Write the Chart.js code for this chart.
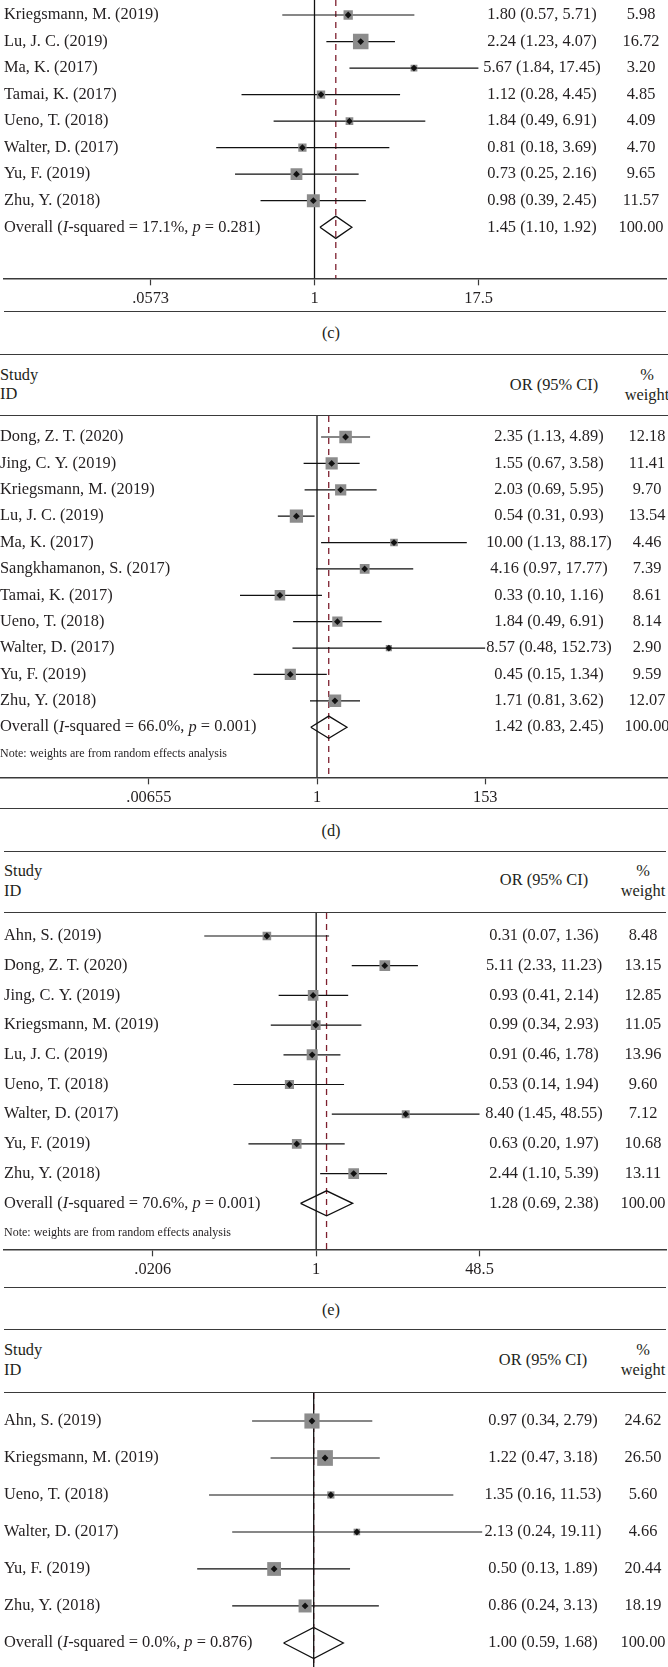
<!DOCTYPE html>
<html>
<head>
<meta charset="utf-8">
<title>Forest plots (c)–(f)</title>
<script src="https://cdn.jsdelivr.net/npm/chart.js@4.4.1/dist/chart.umd.min.js"></script>
<style>
  html, body { margin: 0; padding: 0; background: #fff; }
  body { position: relative; width: 668px; height: 1667px; overflow: hidden;
         font-family: "Liberation Serif", "Times New Roman", serif; color: #231f20; }
  .panel { position: absolute; left: 0; }
  .rule { position: absolute; height: 0; border-top: 1.5px solid #3a3a3a; }
  .lbl { position: absolute; height: 20px; line-height: 20px; font-size: 16.4px; white-space: nowrap; }
</style>
</head>
<body>
<script>
// ===== Data =====

// (c) — top of this panel is cut off, only these rows are visible
const studiesC = ['Kriegsmann, M. (2019)', 'Lu, J. C. (2019)', 'Ma, K. (2017)', 'Tamai, K. (2017)',
                  'Ueno, T. (2018)', 'Walter, D. (2017)', 'Yu, F. (2019)', 'Zhu, Y. (2018)'];
const orC     = [1.80, 2.24, 5.67, 1.12, 1.84, 0.81, 0.73, 0.98];
const lowC    = [0.57, 1.23, 1.84, 0.28, 0.49, 0.18, 0.25, 0.39];
const highC   = [5.71, 4.07, 17.45, 4.45, 6.91, 3.69, 2.16, 2.45];
const weightC = [5.98, 16.72, 3.20, 4.85, 4.09, 4.70, 9.65, 11.57];
const overallC = [1.45, 1.10, 1.92];
const statsC = ['17.1%', '0.281'];
const ticksC = [0.0573, 1, 17.5];
const tickLabelsC = ['.0573', '1', '17.5'];

// (d)
const studiesD = ['Dong, Z. T. (2020)', 'Jing, C. Y. (2019)', 'Kriegsmann, M. (2019)', 'Lu, J. C. (2019)',
                  'Ma, K. (2017)', 'Sangkhamanon, S. (2017)', 'Tamai, K. (2017)', 'Ueno, T. (2018)',
                  'Walter, D. (2017)', 'Yu, F. (2019)', 'Zhu, Y. (2018)'];
const orD     = [2.35, 1.55, 2.03, 0.54, 10.00, 4.16, 0.33, 1.84, 8.57, 0.45, 1.71];
const lowD    = [1.13, 0.67, 0.69, 0.31, 1.13, 0.97, 0.10, 0.49, 0.48, 0.15, 0.81];
const highD   = [4.89, 3.58, 5.95, 0.93, 88.17, 17.77, 1.16, 6.91, 152.73, 1.34, 3.62];
const weightD = [12.18, 11.41, 9.70, 13.54, 4.46, 7.39, 8.61, 8.14, 2.90, 9.59, 12.07];
const overallD = [1.42, 0.83, 2.45];
const statsD = ['66.0%', '0.001'];
const ticksD = [0.00655, 1, 153];
const tickLabelsD = ['.00655', '1', '153'];

// (e)
const studiesE = ['Ahn, S. (2019)', 'Dong, Z. T. (2020)', 'Jing, C. Y. (2019)', 'Kriegsmann, M. (2019)',
                  'Lu, J. C. (2019)', 'Ueno, T. (2018)', 'Walter, D. (2017)', 'Yu, F. (2019)', 'Zhu, Y. (2018)'];
const orE     = [0.31, 5.11, 0.93, 0.99, 0.91, 0.53, 8.40, 0.63, 2.44];
const lowE    = [0.07, 2.33, 0.41, 0.34, 0.46, 0.14, 1.45, 0.20, 1.10];
const highE   = [1.36, 11.23, 2.14, 2.93, 1.78, 1.94, 48.55, 1.97, 5.39];
const weightE = [8.48, 13.15, 12.85, 11.05, 13.96, 9.60, 7.12, 10.68, 13.11];
const overallE = [1.28, 0.69, 2.38];
const statsE = ['70.6%', '0.001'];
const ticksE = [0.0206, 1, 48.5];
const tickLabelsE = ['.0206', '1', '48.5'];

// (f) — bottom of this panel is cut off
const studiesF = ['Ahn, S. (2019)', 'Kriegsmann, M. (2019)', 'Ueno, T. (2018)', 'Walter, D. (2017)',
                  'Yu, F. (2019)', 'Zhu, Y. (2018)'];
const orF     = [0.97, 1.22, 1.35, 2.13, 0.50, 0.86];
const lowF    = [0.34, 0.47, 0.16, 0.24, 0.13, 0.24];
const highF   = [2.79, 3.18, 11.53, 19.11, 1.89, 3.13];
const weightF = [24.62, 26.50, 5.60, 4.66, 20.44, 18.19];
const overallF = [1.00, 0.59, 1.68];
const statsF = ['0.0%', '0.876'];

const totalWeight = 100.00;
const headerCols = ['Study', 'ID', 'OR (95% CI)', '%', 'weight'];
const noteText = 'Note: weights are from random effects analysis';
const captions = ['(c)', '(d)', '(e)'];

// ===== Styles =====
const SERIF = '"Liberation Serif", "Times New Roman", serif';
const INK = '#231f20';
const RULE = '#3a3a3a';
const BOX_GREY = '#8c8c8c';
const REF_RED = '#7d1f2e';
const FS = 16.4;
const TICK_LEN = 7;
const TICK_PAD = 4;
const DIAMOND_H = 0.42;   // half height of the pooled diamond, in rows

Chart.defaults.font.family = SERIF;

const panels = [
  { names: studiesC, or: orC, low: lowC, high: highC, weight: weightC, overall: overallC, stats: statsC,
    ticks: ticksC, tickLabels: tickLabelsC, note: false, axis: true,
    top: 0, bottom: 278, yMin: -0.566, yMax: 9.925, padL: 4, padR: 2,
    xMin: 0.004443, xMax: 460.2, boxK: 3.8, nameX: 4, orX: 542, wX: 641 },
  { names: studiesD, or: orD, low: lowD, high: highD, weight: weightD, overall: overallD, stats: statsD,
    ticks: ticksD, tickLabels: tickLabelsD, note: true, axis: true,
    top: 416, bottom: 777, yMin: -0.797, yMax: 12.9, padL: 0, padR: 0,
    xMin: 0.0000764, xMax: 36170, boxK: 3.6, nameX: 0, orX: 549, wX: 647 },
  { names: studiesE, or: orE, low: lowE, high: highE, weight: weightE, overall: overallE, stats: statsE,
    ticks: ticksE, tickLabels: tickLabelsE, note: true, axis: true,
    top: 913, bottom: 1249, yMin: -0.775, yMax: 10.55, padL: 4, padR: 2,
    xMin: 0.0006462, xMax: 4081, boxK: 2.95, nameX: 4, orX: 544, wX: 643 },
  { names: studiesF, or: orF, low: lowF, high: highF, weight: weightF, overall: overallF, stats: statsF,
    ticks: [1], tickLabels: ['1'], note: false, axis: false,
    top: 1393, bottom: 1667, yMin: -0.757, yMax: 6.65, padL: 4, padR: 2,
    xMin: 0.004414, xMax: 477.7, boxK: 3.05, nameX: 4, orX: 543, wX: 643 }
];

// ===== Static page parts: rules, headers, captions =====
function addRule(y, left, right) {
  const el = document.createElement('div');
  el.className = 'rule';
  el.style.top = (y - 0.75) + 'px';
  el.style.left = left + 'px';
  el.style.width = (right - left) + 'px';
  document.body.appendChild(el);
}

function addLabel(text, x, y, align) {
  const el = document.createElement('div');
  el.className = 'lbl';
  el.textContent = text;
  el.style.top = (y - 10) + 'px';
  if (align === 'center') {
    el.style.left = (x - 100) + 'px';
    el.style.width = '200px';
    el.style.textAlign = 'center';
  } else {
    el.style.left = x + 'px';
  }
  document.body.appendChild(el);
}

[[312, 4, 666], [355, 0, 668], [416, 0, 668], [809, 0, 668],
 [852, 4, 666], [913, 4, 666], [1288, 4, 666], [1330, 4, 666], [1393, 4, 666]]
  .forEach(r => addRule(r[0], r[1], r[2]));

const headers = [
  { x: 0, study: 375, id: 394, orX: 554, orY: 385, wX: 647, pct: 375, wt: 395 },
  { x: 4, study: 871, id: 891, orX: 544, orY: 880, wX: 643, pct: 871, wt: 891 },
  { x: 4, study: 1350, id: 1370, orX: 543, orY: 1360, wX: 643, pct: 1350, wt: 1370 }
];
headers.forEach(h => {
  addLabel(headerCols[0], h.x, h.study, 'left');
  addLabel(headerCols[1], h.x, h.id, 'left');
  addLabel(headerCols[2], h.orX, h.orY, 'center');
  addLabel(headerCols[3], h.wX, h.pct, 'center');
  addLabel(headerCols[4], h.wX, h.wt, 'center');
});

[333, 831, 1310].forEach((y, i) => addLabel(captions[i], 331, y, 'center'));

// ===== Forest plots =====
function ciText(v, lo, hi) {
  return v.toFixed(2) + ' (' + lo.toFixed(2) + ', ' + hi.toFixed(2) + ')';
}

function textPlugin(p) {
  return {
    id: 'forestText',
    afterDatasetsDraw(chart) {
      const ctx = chart.ctx;
      const y = chart.scales.y;
      const n = p.names.length;
      ctx.save();
      ctx.fillStyle = INK;
      ctx.textBaseline = 'middle';

      p.names.forEach((name, i) => {
        const py = y.getPixelForValue(i);
        ctx.font = FS + 'px ' + SERIF;
        ctx.textAlign = 'left';
        ctx.fillText(name, p.nameX, py);
        ctx.textAlign = 'center';
        ctx.fillText(ciText(p.or[i], p.low[i], p.high[i]), p.orX, py);
        ctx.fillText(p.weight[i].toFixed(2), p.wX, py);
      });

      // overall row, "I" and "p" in italics
      const py = y.getPixelForValue(n);
      const parts = [['Overall (', false], ['I', true], ['-squared = ' + p.stats[0] + ', ', false],
                     ['p', true], [' = ' + p.stats[1] + ')', false]];
      let x = p.nameX;
      ctx.textAlign = 'left';
      parts.forEach(part => {
        ctx.font = (part[1] ? 'italic ' : '') + FS + 'px ' + SERIF;
        ctx.fillText(part[0], x, py);
        x += ctx.measureText(part[0]).width;
      });
      ctx.font = FS + 'px ' + SERIF;
      ctx.textAlign = 'center';
      ctx.fillText(ciText(p.overall[0], p.overall[1], p.overall[2]), p.orX, py);
      ctx.fillText(totalWeight.toFixed(2), p.wX, py);

      if (p.note) {
        ctx.font = '12px ' + SERIF;
        ctx.textAlign = 'left';
        ctx.fillText(noteText, p.nameX, y.getPixelForValue(n + 1));
      }
      ctx.restore();
    }
  };
}

function drawPanel(p) {
  const n = p.names.length;
  const idx = p.names.map((_, i) => i);
  const est = p.overall[0], lo = p.overall[1], hi = p.overall[2];
  const axisH = p.axis ? TICK_LEN + FS * 1.2 + TICK_PAD * 2 : 0;

  const canvas = document.createElement('canvas');
  canvas.className = 'panel';
  canvas.width = 668;
  canvas.height = Math.round(p.bottom - p.top + axisH);
  canvas.style.top = p.top + 'px';
  document.body.appendChild(canvas);

  new Chart(canvas, {
    type: 'scatter',
    data: {
      datasets: [
        { // point estimates
          data: idx.map(i => ({ x: p.or[i], y: i })),
          pointStyle: 'rectRot', pointRadius: 3.4, backgroundColor: '#111', borderWidth: 0
        },
        { // weight boxes
          data: idx.map(i => ({ x: p.or[i], y: i })),
          pointStyle: 'rect',
          pointRadius: c => p.boxK * Math.sqrt(p.weight[c.dataIndex]) / (2 * Math.SQRT1_2),
          backgroundColor: BOX_GREY, borderWidth: 0
        },
        { // confidence intervals, one segment per study
          data: idx.flatMap(i => [{ x: p.low[i], y: i }, { x: p.high[i], y: i }, { x: null, y: null }]),
          showLine: true, spanGaps: false, borderColor: '#111', borderWidth: 1.2, pointRadius: 0
        },
        { // pooled diamond
          data: [{ x: lo, y: n }, { x: est, y: n - DIAMOND_H }, { x: hi, y: n },
                 { x: est, y: n + DIAMOND_H }, { x: lo, y: n }],
          showLine: true, borderColor: '#111', borderWidth: 1.3, pointRadius: 0, fill: false
        },
        { // no effect line
          data: [{ x: 1, y: p.yMin }, { x: 1, y: p.yMax }],
          showLine: true, borderColor: '#111', borderWidth: 1.3, pointRadius: 0
        },
        { // pooled estimate line
          data: [{ x: est, y: p.yMin }, { x: est, y: p.yMax }],
          showLine: true, borderColor: REF_RED, borderWidth: 1.3, borderDash: [6, 5], pointRadius: 0
        }
      ]
    },
    options: {
      responsive: false,
      animation: false,
      events: [],
      layout: { autoPadding: false, padding: { left: p.padL, right: p.padR, top: 0, bottom: 0 } },
      plugins: { legend: { display: false }, tooltip: { enabled: false } },
      scales: {
        x: {
          type: 'logarithmic',
          min: p.xMin,
          max: p.xMax,
          offset: false,
          display: p.axis,
          afterBuildTicks: s => { s.ticks = p.ticks.map(v => ({ value: v })); },
          ticks: {
            autoSkip: false, maxRotation: 0, minRotation: 0, padding: TICK_PAD, color: INK,
            font: { family: SERIF, size: FS },
            callback: (v, i) => p.tickLabels[i]
          },
          grid: { display: true, drawOnChartArea: false, drawTicks: true, offset: false,
                  tickLength: TICK_LEN, tickColor: RULE, tickWidth: 1.2 },
          border: { display: true, color: RULE, width: 1.5 }
        },
        y: { type: 'linear', reverse: true, min: p.yMin, max: p.yMax, offset: false, grace: 0, display: false }
      }
    },
    plugins: [textPlugin(p)]
  });
}

panels.forEach(drawPanel);
</script>
</body>
</html>
